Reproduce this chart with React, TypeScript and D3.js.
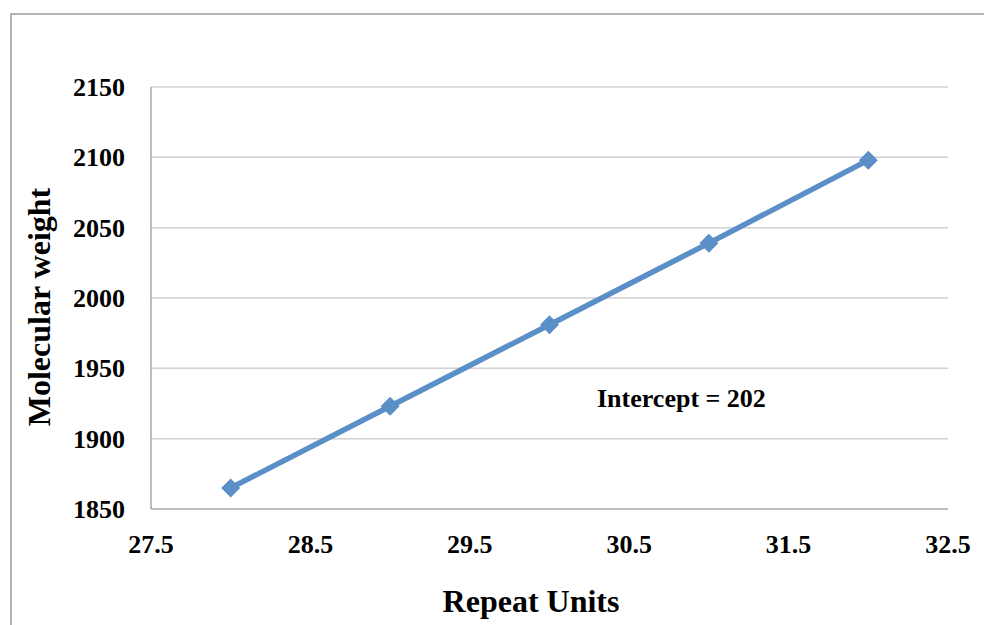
import React from "react";
import * as d3 from "d3";

const repeatUnits = [28, 29, 30, 31, 32];
const molecularWeight = [1865, 1923, 1981, 2039, 2098];
const xTicks = [27.5, 28.5, 29.5, 30.5, 31.5, 32.5];
const yTicks = [1850, 1900, 1950, 2000, 2050, 2100, 2150];
const annotation = "Intercept = 202";
const xTitle = "Repeat Units";
const yTitle = "Molecular weight";

export default function App() {
  const W = 984, H = 625;
  const left = 151, right = 948, top = 87, bottom = 509;
  const x = d3.scaleLinear().domain([27.5, 32.5]).range([left, right]);
  const y = d3.scaleLinear().domain([1850, 2150]).range([bottom, top]);
  const pts = repeatUnits.map((u, i) => [x(u), y(molecularWeight[i])] as [number, number]);
  const line = d3.line()(pts) || "";
  const font = "'Liberation Serif', 'Times New Roman', serif";
  const blue = "#5a8fc8";
  const diamond = d3.symbol().type(d3.symbolDiamond2).size(230)() || "";
  return (
    <svg width={W} height={H} style={{ position: "absolute", left: 0, top: 0 }} fontFamily={font} fontWeight="bold">
      <rect x={0} y={0} width={W} height={H} fill="#fff" />
      <rect x={11} y={14} width={W + 20} height={H + 20} fill="none" stroke="#9b9b9b" strokeWidth={1.5} />
      {yTicks.map((t) =>
        t === 1850 ? null : (
          <line key={"g" + t} x1={left} x2={right} y1={y(t)} y2={y(t)} stroke="#d0d0d0" strokeWidth={1.5} />
        )
      )}
      <line x1={left} x2={left} y1={top} y2={bottom} stroke="#a8a8a8" strokeWidth={1.5} />
      <line x1={left} x2={right} y1={bottom} y2={bottom} stroke="#a8a8a8" strokeWidth={1.5} />
      {yTicks.map((t) => (
        <text key={"y" + t} x={125} y={y(t)} dy="0.35em" textAnchor="end" fontSize={26} fill="#000">
          {t}
        </text>
      ))}
      {xTicks.map((t) => (
        <text key={"x" + t} x={x(t)} y={553} textAnchor="middle" fontSize={26} fill="#000">
          {t.toFixed(1)}
        </text>
      ))}
      <path d={line} fill="none" stroke={blue} strokeWidth={5.5} />
      {pts.map(([px, py], i) => (
        <path key={"p" + i} d={diamond} transform={`translate(${px},${py})`} fill={blue} />
      ))}
      <text x={597} y={407} fontSize={26} fill="#000">{annotation}</text>
      <text x={531} y={612} textAnchor="middle" fontSize={32} fill="#000">{xTitle}</text>
      <text transform={`translate(50,307) rotate(-90)`} textAnchor="middle" fontSize={32} fill="#000">
        {yTitle}
      </text>
    </svg>
  );
}
